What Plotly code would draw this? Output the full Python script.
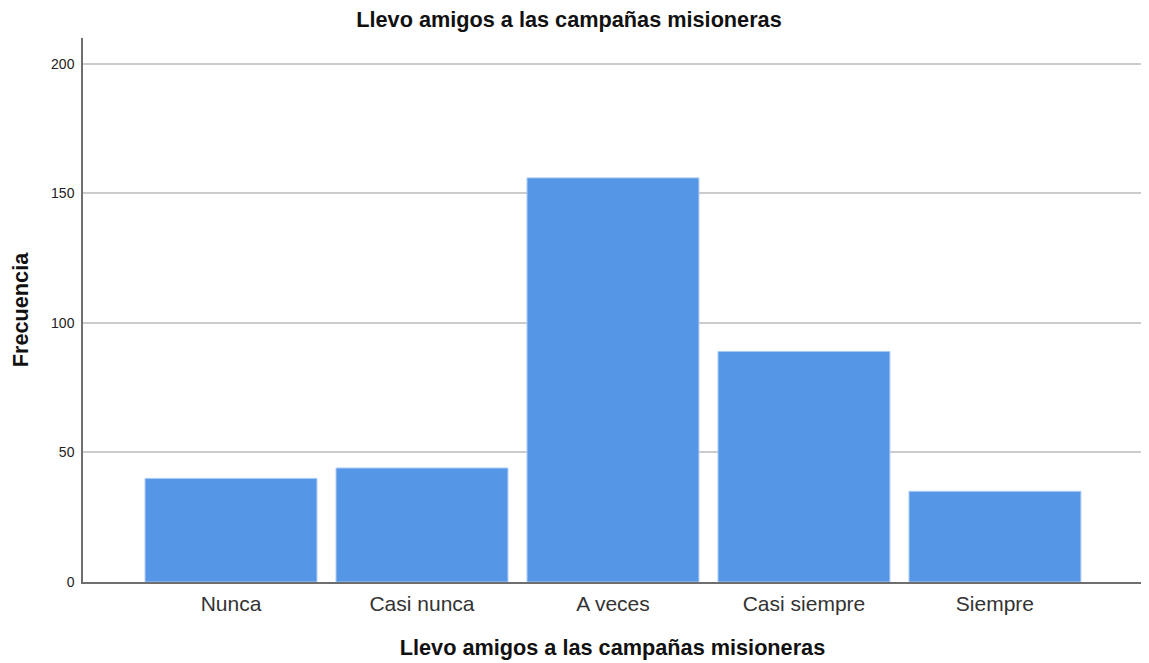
import plotly.graph_objects as go

categorias = ["Nunca", "Casi nunca", "A veces", "Casi siempre", "Siempre"]
frecuencias = [40, 44, 156, 89, 35]
y_ticks = [0, 50, 100, 150, 200]

titulo = "Llevo amigos a las campañas misioneras"
fuente = "Liberation Sans, Arial, sans-serif"

# the page adds an 8px body margin, so the figure is a bit smaller than the window
W, H = 1141, 655

fig = go.Figure(
    go.Bar(
        x=categorias,
        y=frecuencias,
        width=0.9,
        marker=dict(color="#5596e6", line=dict(color="#a9c9f2", width=1)),
    )
)

fig.update_layout(
    width=W,
    height=H,
    margin=dict(l=75, r=7, t=30, b=81),
    plot_bgcolor="white",
    paper_bgcolor="white",
    font=dict(family=fuente, color="#222222"),
    title=dict(
        text="<b>" + titulo + "</b>",
        x=(569 - 8) / W, xref="container", xanchor="center",
        y=1 - 11 / H, yref="container", yanchor="middle",
        font=dict(size=21.7, color="#111111"),
    ),
    showlegend=False,
)

fig.update_xaxes(
    range=[-0.775, 4.77],
    showline=True, linecolor="#6e6e6e", linewidth=1.5,
    ticks="", tickfont=dict(size=21, color="#333333"),
    ticklabelstandoff=2,
    title=dict(text="<b>" + titulo + "</b>", font=dict(size=21.7, color="#111111"), standoff=26),
)
fig.update_yaxes(
    range=[0, 210],
    tickvals=y_ticks,
    showline=True, linecolor="#6e6e6e", linewidth=1.5,
    showgrid=True, gridcolor="#cccccc", gridwidth=1.5,
    zeroline=False,
    ticks="", tickfont=dict(size=14, color="#222222"),
    ticklabelstandoff=4,
    title=dict(text="<b>Frecuencia</b>", font=dict(size=21.7, color="#111111"), standoff=20),
)

fig.write_html("out.html")
